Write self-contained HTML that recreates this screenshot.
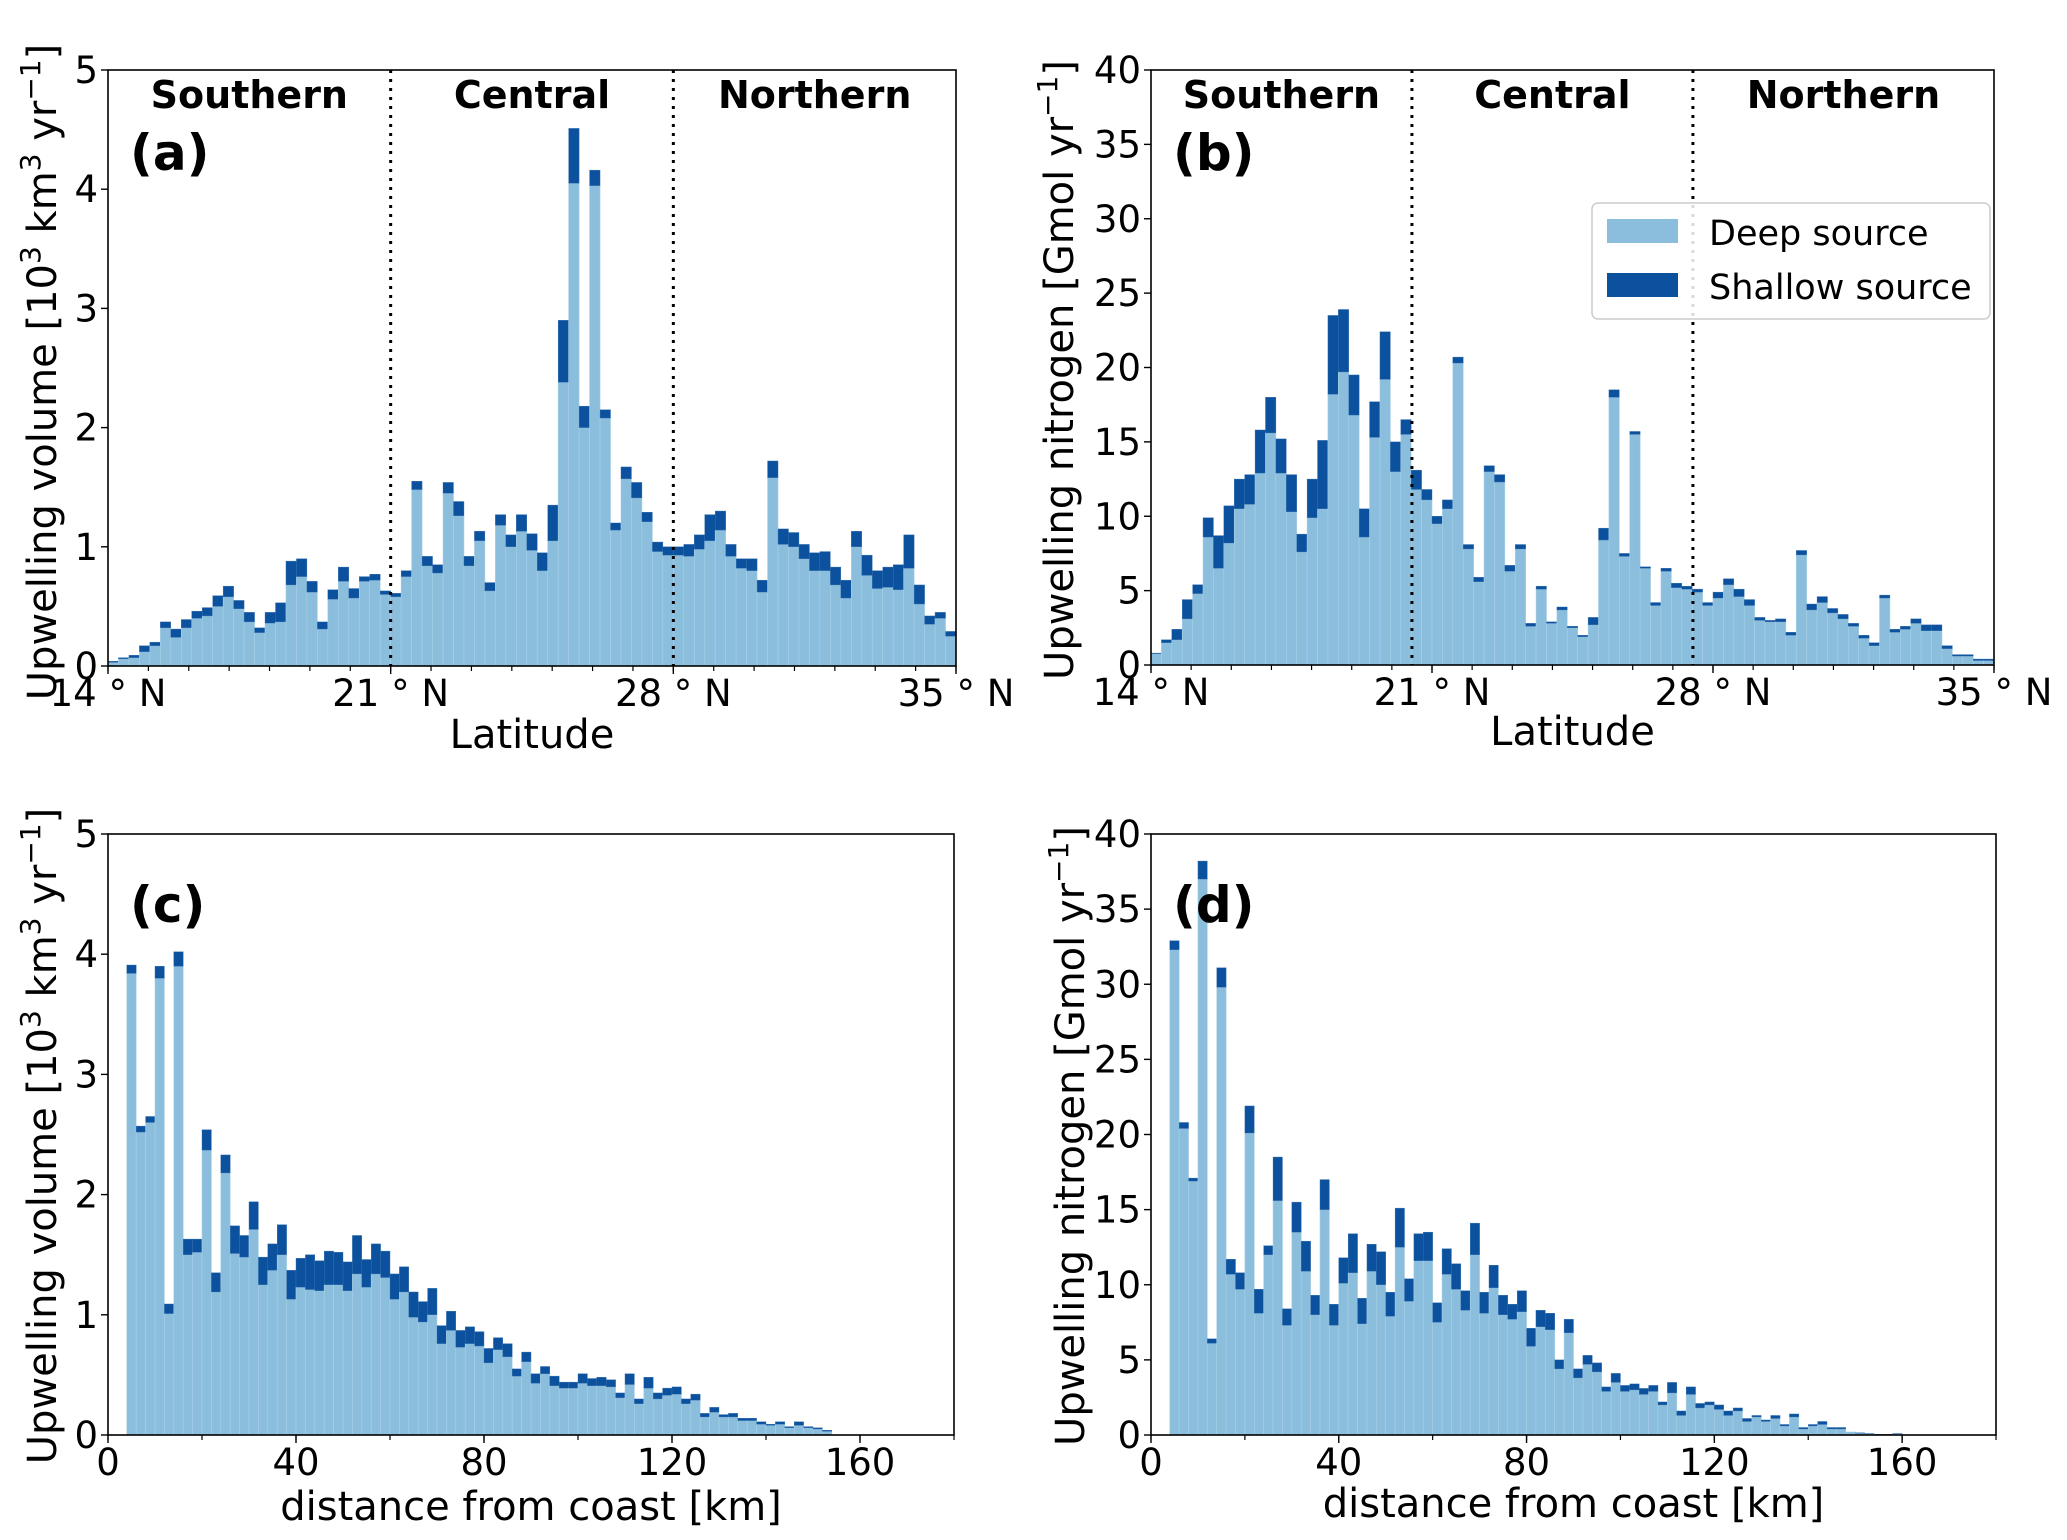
<!DOCTYPE html>
<html><head><meta charset="utf-8">
<style>
html,body{margin:0;padding:0;background:#fff;}
svg{display:block;font-family:"DejaVu Sans","Liberation Sans",sans-serif;}
</style></head>
<body>
<svg id="fig" width="2067" height="1540" viewBox="0 0 2067 1540" xmlns="http://www.w3.org/2000/svg"></svg>
<script>
// Panel (a): upwelling volume by latitude (81 bins 14-35N)
const volLatTotal = [0.04,0.07,0.09,0.17,0.2,0.37,0.31,0.39,0.46,0.49,0.59,0.67,0.55,0.45,0.32,0.45,0.53,0.88,0.9,0.71,0.37,0.64,0.83,0.65,0.75,0.77,0.63,0.61,0.8,1.55,0.92,0.85,1.54,1.38,0.92,1.13,0.7,1.27,1.1,1.27,1.11,0.95,1.35,2.9,4.51,2.18,4.16,2.15,1.2,1.67,1.54,1.29,1.04,1.0,1.0,1.02,1.1,1.27,1.3,1.02,0.9,0.9,0.72,1.72,1.15,1.12,1.02,0.95,0.96,0.83,0.72,1.13,0.93,0.8,0.83,0.85,1.1,0.68,0.42,0.45,0.29];
const volLatDeep = [0.03,0.06,0.07,0.12,0.17,0.32,0.24,0.32,0.40,0.42,0.50,0.58,0.48,0.37,0.28,0.36,0.37,0.68,0.75,0.62,0.31,0.56,0.71,0.57,0.71,0.72,0.60,0.58,0.75,1.48,0.84,0.78,1.45,1.26,0.84,1.05,0.63,1.18,1.0,1.13,0.97,0.8,1.05,2.38,4.05,2.0,4.03,2.08,1.14,1.57,1.41,1.21,0.96,0.93,0.93,0.92,0.98,1.05,1.14,0.92,0.82,0.8,0.62,1.58,1.02,1.0,0.9,0.8,0.8,0.68,0.57,1.0,0.76,0.65,0.66,0.64,0.82,0.52,0.35,0.4,0.25];
// Panel (b): upwelling nitrogen by latitude
const nLatTotal = [0.8,1.7,2.4,4.4,5.4,9.9,8.7,10.7,12.5,12.8,15.8,18.0,15.2,12.8,8.8,12.5,15.1,23.5,23.9,19.5,10.5,17.7,22.4,15.0,16.5,13.1,11.8,10.0,11.1,20.7,8.1,5.9,13.4,12.8,6.7,8.1,2.8,5.3,2.9,3.9,2.6,2.0,3.2,9.2,18.5,7.5,15.7,6.6,4.2,6.5,5.5,5.3,5.1,4.2,4.9,5.8,5.1,4.4,3.2,3.0,3.1,2.2,7.7,4.1,4.6,3.8,3.4,2.8,2.0,1.5,4.7,2.4,2.6,3.1,2.7,2.7,1.3,0.7,0.7,0.4,0.4];
const nLatDeep = [0.75,1.5,1.7,3.1,4.8,8.6,6.5,8.2,10.5,10.8,12.9,15.6,12.9,10.3,7.6,9.9,10.5,18.2,19.7,16.8,8.6,15.3,19.2,13.0,15.5,11.8,11.1,9.5,10.5,20.3,7.8,5.6,13.0,12.3,6.3,7.8,2.6,5.1,2.8,3.7,2.5,1.9,2.7,8.4,18.0,7.3,15.5,6.5,4.0,6.3,5.2,5.1,4.9,4.0,4.5,5.4,4.6,4.0,3.0,2.9,2.9,2.0,7.4,3.7,4.2,3.5,3.1,2.6,1.8,1.3,4.5,2.2,2.4,2.8,2.3,2.3,1.1,0.6,0.6,0.3,0.3];
// Panel (c): upwelling volume by distance (2 km bins from 4 km)
const volDistTotal = [3.91,2.57,2.65,3.9,1.09,4.02,1.63,1.63,2.54,1.35,2.33,1.74,1.66,1.94,1.48,1.59,1.75,1.37,1.47,1.5,1.45,1.53,1.52,1.44,1.66,1.46,1.59,1.53,1.34,1.4,1.19,1.11,1.22,0.91,1.03,0.87,0.9,0.86,0.72,0.81,0.76,0.55,0.69,0.51,0.57,0.49,0.44,0.44,0.51,0.47,0.48,0.46,0.35,0.51,0.30,0.48,0.35,0.39,0.40,0.30,0.34,0.18,0.23,0.17,0.18,0.14,0.14,0.11,0.09,0.11,0.07,0.11,0.07,0.06,0.04];
const volDistDeep = [3.84,2.52,2.60,3.80,1.01,3.9,1.5,1.52,2.37,1.19,2.18,1.51,1.48,1.71,1.25,1.37,1.5,1.13,1.23,1.21,1.2,1.25,1.25,1.2,1.34,1.23,1.34,1.31,1.13,1.19,0.98,0.94,1.0,0.76,0.87,0.73,0.76,0.74,0.6,0.71,0.65,0.49,0.61,0.43,0.51,0.41,0.39,0.39,0.43,0.41,0.41,0.40,0.31,0.42,0.26,0.39,0.30,0.33,0.34,0.26,0.29,0.15,0.19,0.15,0.15,0.12,0.12,0.09,0.08,0.09,0.06,0.08,0.06,0.05,0.03];
// Panel (d): upwelling nitrogen by distance
const nDistTotal = [32.9,20.8,17.1,38.2,6.4,31.1,11.7,10.8,21.9,9.7,12.6,18.5,8.4,15.5,12.9,9.3,17.0,8.7,11.8,13.4,9.1,12.7,12.2,9.5,15.1,10.4,13.4,13.5,8.8,12.4,11.4,9.6,14.1,9.5,11.3,9.3,8.7,9.6,7.1,8.3,8.1,5.0,7.7,4.4,5.3,4.8,3.2,4.1,3.3,3.4,3.1,3.3,2.2,3.5,1.6,3.2,2.1,2.2,2.0,1.6,1.8,1.1,1.3,1.0,1.3,0.7,1.4,0.5,0.7,0.9,0.5,0.5,0.2,0.15,0.1,0.05,0.05,0.1];
const nDistDeep = [32.3,20.4,16.9,37.0,6.1,29.8,10.7,9.7,20.1,8.1,12.0,15.6,7.3,13.5,10.9,8.0,15.0,7.3,10.1,10.8,7.4,10.9,10.0,7.9,12.5,8.9,11.6,11.6,7.5,10.7,9.7,8.3,12.0,8.1,9.8,8.0,7.7,8.2,5.9,7.2,7.0,4.4,6.8,3.8,4.7,4.2,2.9,3.5,2.9,3.0,2.7,2.9,2.0,2.8,1.3,2.7,1.8,2.0,1.7,1.3,1.6,0.9,1.2,0.9,1.1,0.6,1.2,0.4,0.6,0.7,0.4,0.4,0.2,0.12,0.08,0.04,0.04,0.08];
const latTicks = [14,21,28,35];
const latTickLabels = ["14 \u00B0 N","21 \u00B0 N","28 \u00B0 N","35 \u00B0 N"];
const distTicks = [0,40,80,120,160];
const volTicks = [0,1,2,3,4,5];
const nTicks = [0,5,10,15,20,25,30,35,40];
const regionBoundsA = [21,28];
const regionBoundsB = [20.5,27.5];
const regionNames = ["Southern","Central","Northern"];

const NS="http://www.w3.org/2000/svg";
const svg=document.getElementById('fig');
const DEEP="#8abedc", SHALLOW="#0b519d";
function mk(tag,attrs,parent){const e=document.createElementNS(NS,tag);for(const k in attrs)e.setAttribute(k,attrs[k]);(parent||svg).appendChild(e);return e;}

function panel(cfg){
  const g=mk('g',{});
  
  
  const X=v=>cfg.x0+(v-cfg.xmin)/(cfg.xmax-cfg.xmin)*(cfg.x1-cfg.x0);
  const Y=v=>cfg.y1-(v-cfg.ymin)/(cfg.ymax-cfg.ymin)*(cfg.y1-cfg.y0);
  for(let i=0;i<cfg.total.length;i++){
    const a=cfg.binStart+i*cfg.binW, b=a+cfg.binW;
    const xa=X(a), xb=X(b);
    const d=mk('rect',{x:xa,y:Y(cfg.deep[i]),width:xb-xa,height:Y(0)-Y(cfg.deep[i]),fill:DEEP,stroke:"#a9d0e6","stroke-width":0.6},g);
    
    
    const s=mk('rect',{x:xa,y:Y(cfg.total[i]),width:xb-xa,height:Math.max(0,Y(cfg.deep[i])-Y(cfg.total[i])),fill:SHALLOW,stroke:"#3a73b0","stroke-width":0.4},g);
    
    
  }
  if(cfg.regions){
    cfg.regions.forEach(r=>{
      const l=mk('line',{x1:X(r),x2:X(r),y1:cfg.y0,y2:cfg.y1,stroke:"#000","stroke-width":3,"stroke-dasharray":"3,6"},g);
      
      
    });
    const edges=[cfg.xmin].concat(cfg.regions,[cfg.xmax]);
    regionNames.forEach((n,i)=>{
      const t=mk('text',{x:(X(edges[i])+X(edges[i+1]))/2,y:cfg.y0+38,"text-anchor":"middle","font-size":38,"font-weight":"bold"},g);
      t.textContent=n;
      
      
    });
  }
  const f=mk('rect',{x:cfg.x0,y:cfg.y0,width:cfg.x1-cfg.x0,height:cfg.y1-cfg.y0,fill:"none",stroke:"#000","stroke-width":1.6},g);
  
  
  cfg.yt.forEach(v=>{
    mk('line',{x1:cfg.x0-7,x2:cfg.x0,y1:Y(v),y2:Y(v),stroke:"#000","stroke-width":1.4},g);
    const t=mk('text',{x:cfg.x0-10,y:Y(v)+13,"text-anchor":"end","font-size":37},g);
    t.textContent=v;
    
    
  });
  for(let v=cfg.xmin;v<=cfg.xmax+1e-9;v+=cfg.minor){
    mk('line',{x1:X(v),x2:X(v),y1:cfg.y1,y2:cfg.y1+5,stroke:"#000","stroke-width":1.2},g);
  }
  cfg.xt.forEach((v,i)=>{
    mk('line',{x1:X(v),x2:X(v),y1:cfg.y1,y2:cfg.y1+8,stroke:"#000","stroke-width":1.4},g);
    const t=mk('text',{x:X(v),y:cfg.y1+40,"text-anchor":"middle","font-size":37},g);
    t.textContent=cfg.xtl?cfg.xtl[i]:v;
    
    
  });
  const xl=mk('text',{x:(cfg.x0+cfg.x1)/2,y:cfg.xlY,"text-anchor":"middle","font-size":40},g);
  xl.textContent=cfg.xlabel;
  
  
  const yl=mk('text',{x:0,y:0,"text-anchor":"middle","font-size":40,transform:`translate(${cfg.ylX},${cfg.ylY}) rotate(-90)`},g);
  yl.innerHTML=cfg.ylabel;
  
  
  const pl=mk('text',{x:cfg.x0+22,y:cfg.plY,"font-size":50,"font-weight":"bold"},g);
  pl.textContent=cfg.tag;
  
  
  return {X,Y,g};
}
const volLabel='Upwelling volume [10<tspan dy="-16" font-size="28">3</tspan><tspan dy="16"> km</tspan><tspan dy="-16" font-size="28">3</tspan><tspan dy="16"> yr</tspan><tspan dy="-16" font-size="28">\u22121</tspan><tspan dy="16">]</tspan>';
const nLabel='Upwelling nitrogen [Gmol yr<tspan dy="-16" font-size="28">\u22121</tspan><tspan dy="16">]</tspan>';

panel({name:'panel-a',x0:108,x1:956,y0:70,y1:666,xmin:14,xmax:35,ymin:0,ymax:5,binStart:14,binW:21/81,total:volLatTotal,deep:volLatDeep,yt:volTicks,xt:latTicks,xtl:latTickLabels,minor:1,regions:regionBoundsA,xlabel:'Latitude',xlY:748,ylabel:volLabel,ylX:56,ylY:372,tag:'(a)',plY:170});
panel({name:'panel-b',x0:1151,x1:1994,y0:70,y1:665,xmin:14,xmax:35,ymin:0,ymax:40,binStart:14,binW:21/81,total:nLatTotal,deep:nLatDeep,yt:nTicks,xt:latTicks,xtl:latTickLabels,minor:1,regions:regionBoundsB,xlabel:'Latitude',xlY:745,ylabel:nLabel,ylX:1073,ylY:370,tag:'(b)',plY:170});
panel({name:'panel-c',x0:108,x1:954,y0:834,y1:1435,xmin:0,xmax:180,ymin:0,ymax:5,binStart:4,binW:2,total:volDistTotal,deep:volDistDeep,yt:volTicks,xt:distTicks,minor:20,regions:null,xlabel:'distance from coast [km]',xlY:1520,ylabel:volLabel,ylX:56,ylY:1136,tag:'(c)',plY:922});
panel({name:'panel-d',x0:1151,x1:1996,y0:834,y1:1435,xmin:0,xmax:180,ymin:0,ymax:40,binStart:4,binW:2,total:nDistTotal,deep:nDistDeep,yt:nTicks,xt:distTicks,minor:20,regions:null,xlabel:'distance from coast [km]',xlY:1517,ylabel:nLabel,ylX:1084,ylY:1136,tag:'(d)',plY:922});

const lg=mk('g',{});


mk('rect',{x:1592,y:203,width:398,height:116,rx:6,fill:"#fff","fill-opacity":0.85,stroke:"#ccc","stroke-width":1.5},lg);
const lp1=mk('rect',{x:1607,y:219,width:71,height:24,fill:DEEP},lg);


const lt1=mk('text',{x:1709,y:245,"font-size":35},lg);lt1.textContent='Deep source';


const lp2=mk('rect',{x:1607,y:273,width:71,height:24,fill:SHALLOW},lg);


const lt2=mk('text',{x:1709,y:299,"font-size":35},lg);lt2.textContent='Shallow source';


</script>
</body></html>
